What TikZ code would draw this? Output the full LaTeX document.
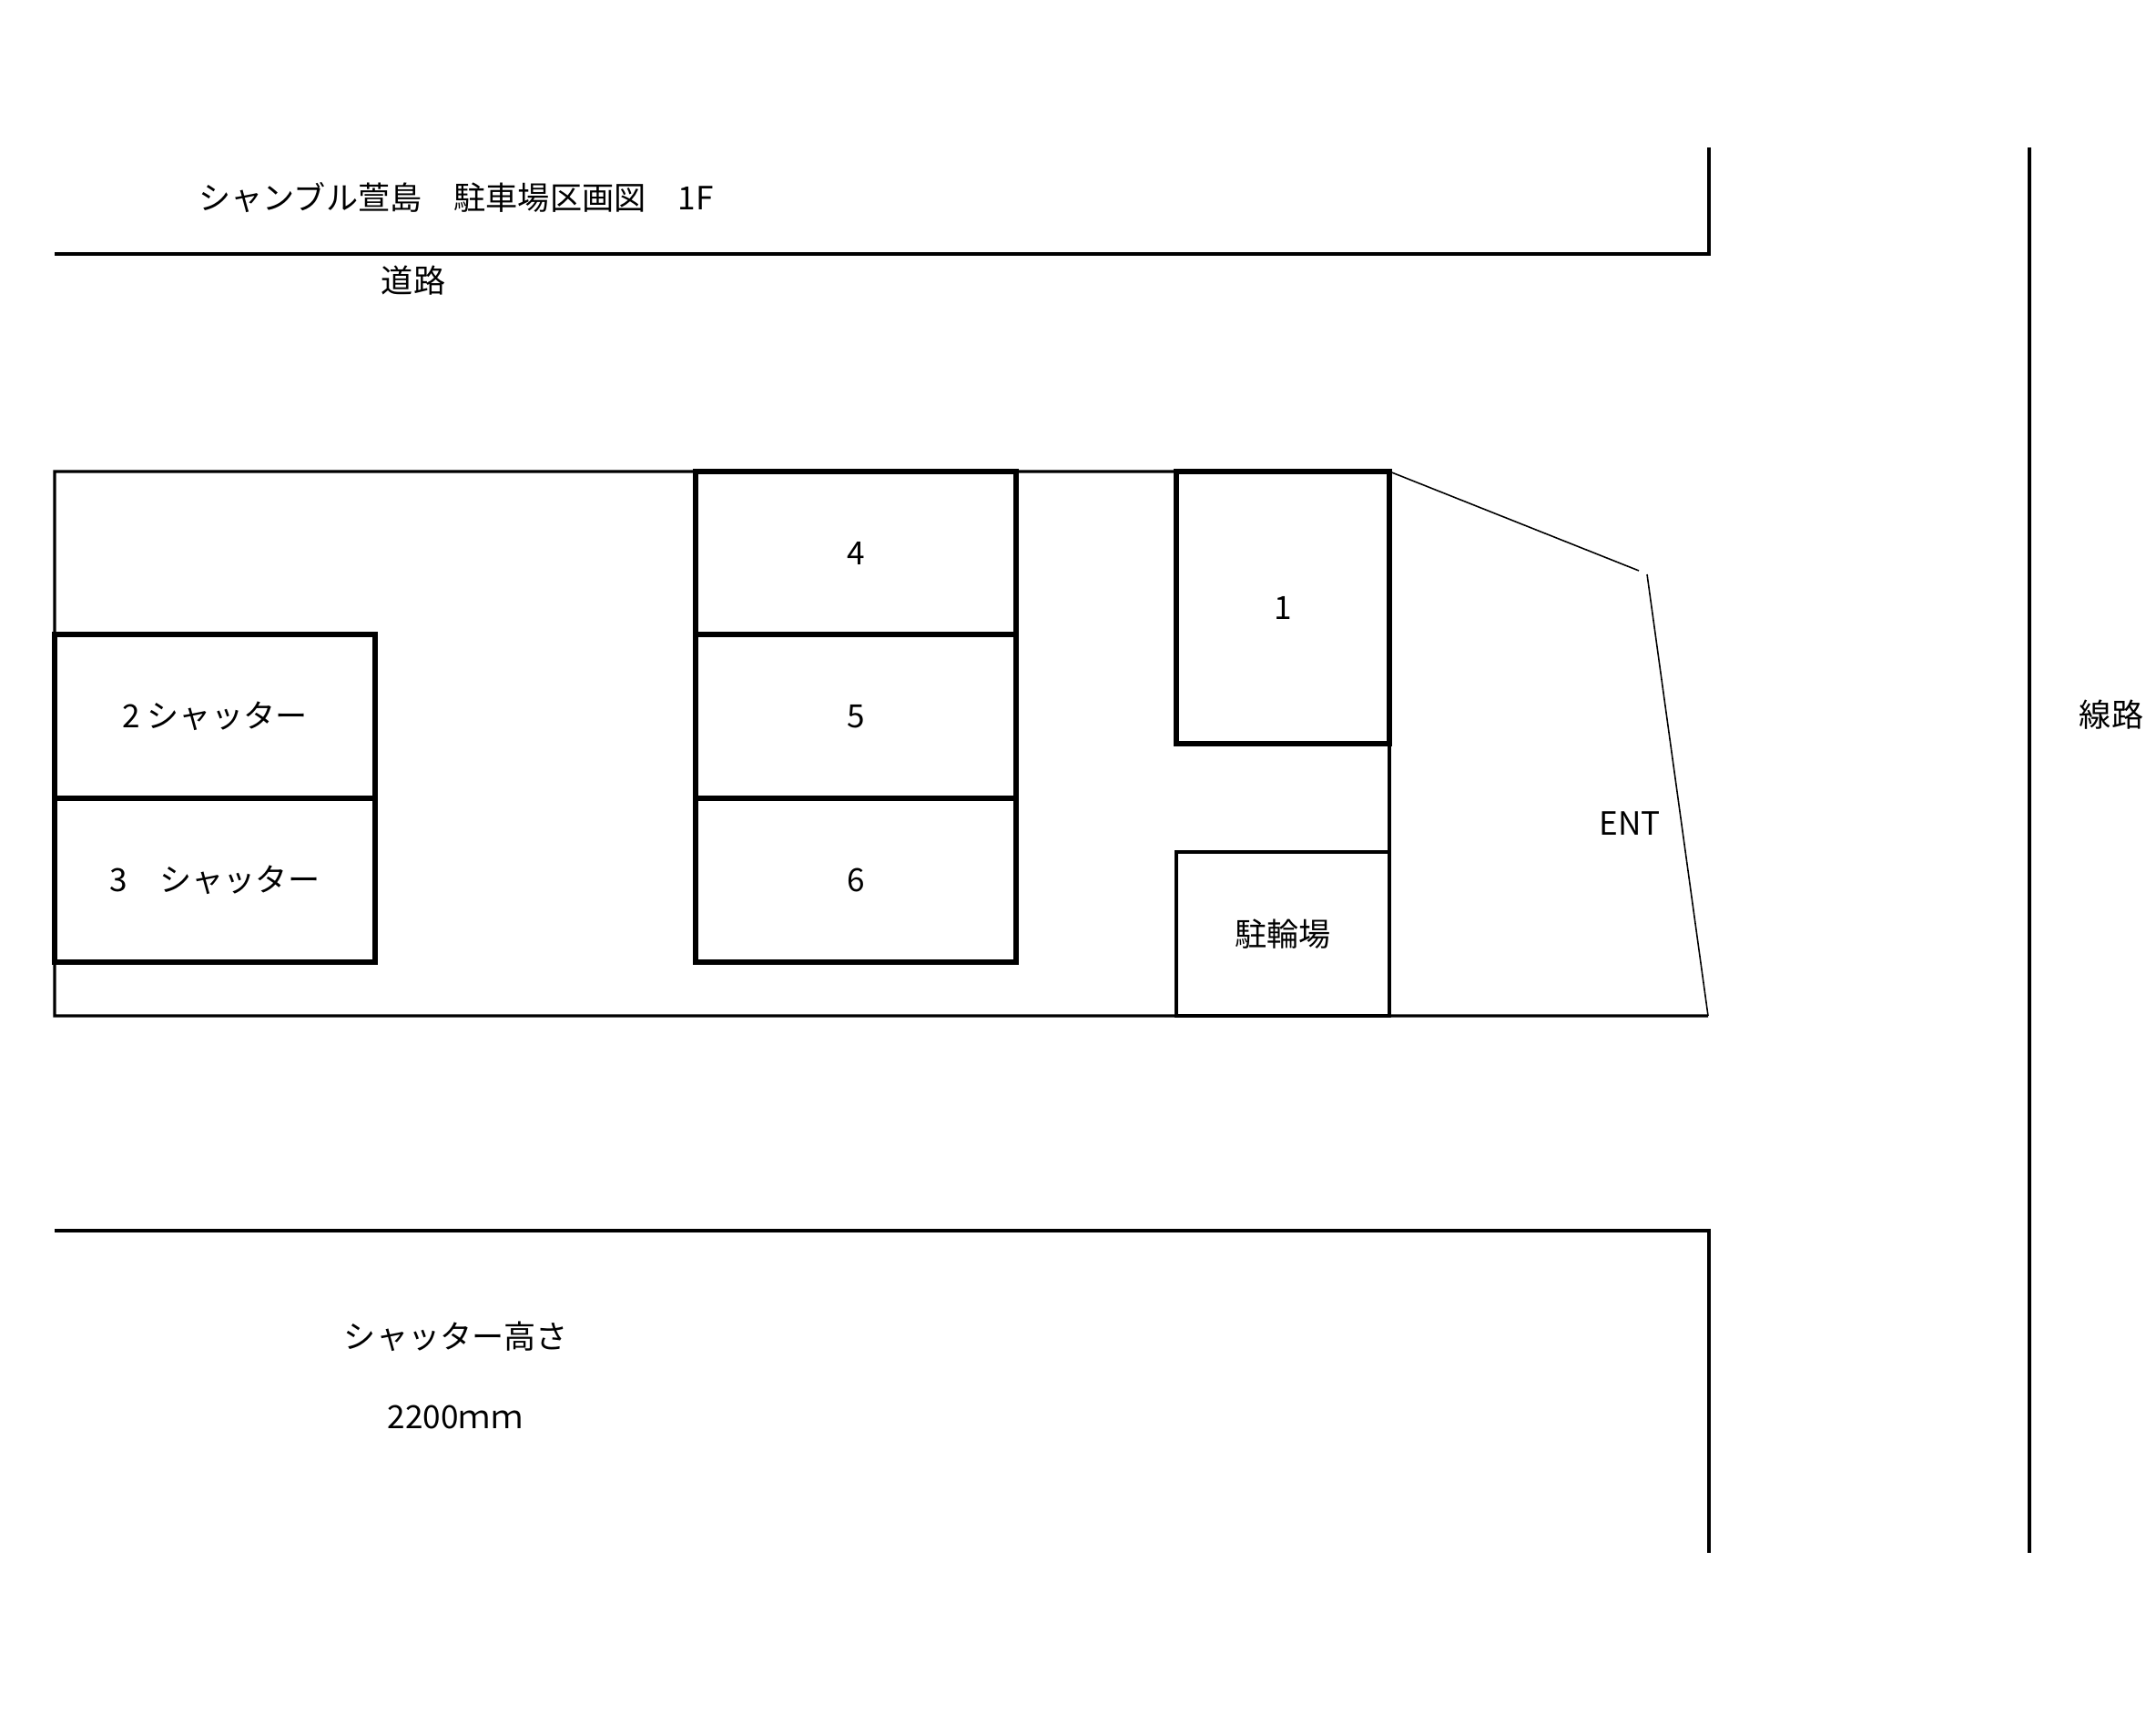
\documentclass[tikz,border=0pt]{standalone}
\usepackage{fontspec}
\setmainfont{Noto Sans CJK JP}
\begin{document}
\begin{tikzpicture}
\tikzstyle{lot}=[rectangle,draw=black,line width=1.9pt,inner sep=0pt,outer sep=0pt,minimum width=3.52cm,minimum height=1.80cm]
\tikzstyle{hut}=[rectangle,draw=black,line width=0.95pt,inner sep=0pt,outer sep=0pt,minimum width=2.34cm,minimum height=1.80cm]
\tikzstyle{wall}=[black,line width=0.95pt]
\tikzstyle{slant}=[black,line width=0.45pt]
\tikzstyle{note}=[rectangle,inner sep=0pt]
\useasboundingbox (0,0) rectangle (23.68,18.82);
% outer roads and rail line
\coordinate (roadtop) at (18.77,17.20);
\coordinate (roadcorner) at (18.77,16.03);
\coordinate (roadleft) at (0.60,16.03);
\coordinate (lowleft) at (0.60,5.30);
\coordinate (lowcorner) at (18.77,5.30);
\coordinate (lowend) at (18.77,1.76);
\coordinate (railtop) at (22.29,17.20);
\coordinate (railend) at (22.29,1.76);
\draw [wall] (roadtop) -- (roadcorner) -- (roadleft);
\draw [wall] (lowleft) -- (lowcorner) -- (lowend);
\draw [wall] (railtop) -- (railend);
% site corners
\coordinate (sitenw) at (0.60,13.64);
\coordinate (sitesw) at (0.60,7.66);
\coordinate (sitese) at (18.76,7.66);
\coordinate (gapa) at (18.00,12.55);
\coordinate (gapb) at (18.09,12.51);
% parking spaces
\node [lot] (two) at (2.36,10.95) {2 シャッター};
\node [lot] (three) at (2.36,9.15) {3　シャッター};
\node [lot,minimum height=1.79cm] (four) at (9.40,12.745) {4};
\node [lot] (five) at (9.40,10.95) {5};
\node [lot] (six) at (9.40,9.15) {6};
\node [lot,minimum width=2.34cm,minimum height=2.99cm] (one) at (14.09,12.145) {1};
\node [hut] (bike) at (14.09,8.56) {駐輪場};
% site outline
\draw [wall] (one.north west) -- (sitenw) -- (sitesw) -- (sitese);
\draw [wall] (one.south east) -- (bike.north east);
\draw [slant] (one.north east) -- (gapa);
\draw [slant] (gapb) -- (sitese);
% labels
\node [note] (title) at (5.01,16.65) {シャンブル萱島　駐車場区画図　1F};
\node [note] (road) at (4.54,15.74) {道路};
\node [note] (rail) at (23.19,10.97) {線路};
\node [note] (ent) at (17.90,9.77) {ENT};
\node [note] (height) at (5.01,4.14) {シャッター高さ};
\node [note] (size) at (5.00,3.25) {2200ｍｍ};
\end{tikzpicture}
\end{document}
